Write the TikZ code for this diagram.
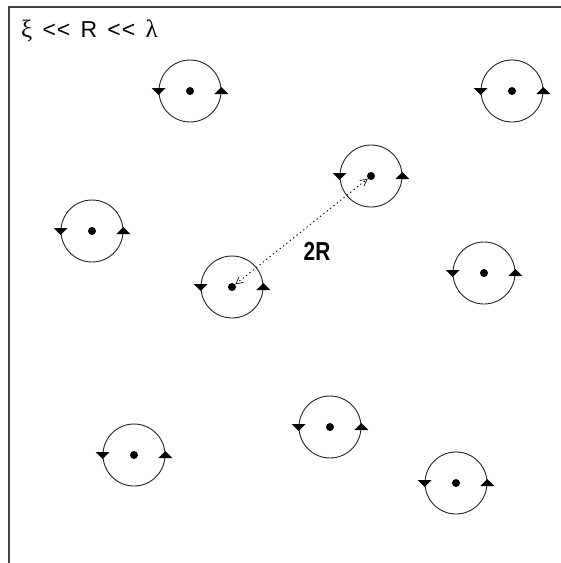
\documentclass[tikz,border=0pt]{standalone}
\usepackage{fontspec}
\setmainfont{Liberation Sans}[WordSpace=1.6]
\newfontfamily\greekfont{Liberation Serif}
\usepackage{tikz}
\usetikzlibrary{arrows.meta}
\definecolor{framegray}{HTML}{444444}
\definecolor{ringgray}{HTML}{222222}
\newcommand{\muchless}{<\kern1pt<}

\begin{document}
\begin{tikzpicture}[
        x=1pt, y=-1pt,
        core/.style={
            circle,
            fill=black,
            minimum size=8pt,
            inner sep=0pt
        },
        ring/.style={
            circle,
            draw=ringgray,
            line width=0.9pt,
            minimum size=62pt,
            inner sep=0pt
        },
        spacing/.style={
            dash pattern=on 1.3pt off 3pt,
            line width=0.9pt,
            {Straight Barb[length=7pt, width=7pt, line width=0.6pt]}-{Straight Barb[length=7pt, width=7pt, line width=0.6pt]}
        }
    ]
        \useasboundingbox (0,0) rectangle (561,563);
        \draw[framegray, line width=1.2pt] (9,563) -- (9,7) -- (561,7);

        \node[anchor=base west, inner sep=0pt, font=\fontsize{23}{27}\selectfont] (scales) at (21,37)
            {{\greekfont\fontsize{25}{27}\selectfont ξ} \muchless{} R \muchless{} {\greekfont\fontsize{25}{27}\selectfont λ}};

        % vortices: core, ring and the two flow marks
        \foreach \i/\x/\y in {1/190/91, 2/512/91, 3/371/176, 4/92/231, 5/232/287,
                              6/484/273, 7/134/455, 8/330/427, 9/456/483} {
            \node[core] (v\i) at (\x,\y) {};
            \node[ring] (r\i) at (v\i) {};
            \fill (r\i.west) +(-7,-3) -- +(7,-3) -- +(0,4) -- cycle;
            \fill (r\i.east) +(-7,3) -- +(7,3) -- +(0,-4) -- cycle;
        }

        \draw[spacing] (v5) -- (v3);
        \node[font=\bfseries\fontsize{26}{30}\selectfont, xscale=0.8] (dist) at (317,251) {2R};
    \end{tikzpicture}
\end{document}
